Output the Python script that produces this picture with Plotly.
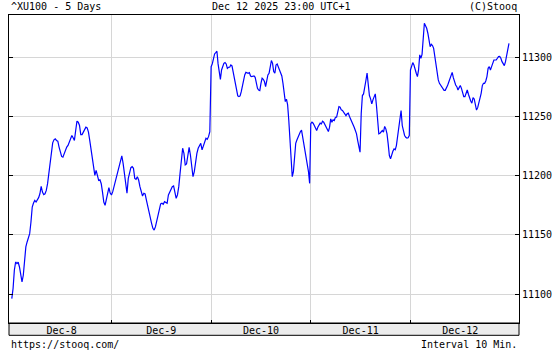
import plotly.graph_objects as go

# ---- data ----
day_labels = ["Dec-8", "Dec-9", "Dec-10", "Dec-11", "Dec-12"]

dec8 = [11096.3, 11104.8, 11120.2, 11127.2, 11125.8, 11127.0, 11123.0, 11114.6, 11110.4, 11116.0,
        11131.5, 11140.0, 11144.1, 11146.9, 11151.1, 11161.0, 11173.6, 11177.0, 11179.2, 11177.8,
        11179.2, 11181.5, 11184.8, 11191.0, 11186.2, 11184.0, 11184.8, 11187.6, 11193.3, 11203.0,
        11212.9, 11222.8, 11227.8, 11230.3, 11231.2, 11229.8, 11229.2, 11224.2, 11220.0, 11216.3,
        11215.7, 11218.5, 11221.9, 11224.2, 11225.6, 11228.4, 11231.2, 11234.0, 11232.0, 11229.8,
        11238.2, 11246.1, 11245.2, 11242.4, 11234.8, 11234.8, 11236.8, 11238.8, 11241.0, 11240.4,
        11236.8, 11229.8, 11221.3, 11212.9, 11204.5, 11200.3, 11204.5, 11200.3, 11196.1, 11196.6,
        11193.3, 11186.2, 11177.8, 11175.0, 11180.6, 11186.2, 11189.9, 11185.4]

dec9 = [11183.8, 11186.6, 11190.8, 11195.0, 11200.6, 11204.9, 11209.1, 11213.3, 11216.7, 11210.5,
        11202.0, 11190.8, 11185.2, 11197.8, 11203.5, 11206.8, 11207.7, 11206.3, 11197.8, 11197.0,
        11199.2, 11196.4, 11190.8, 11186.6, 11182.9, 11185.2, 11184.6, 11179.5, 11173.9, 11169.7,
        11165.5, 11159.8, 11155.6, 11154.2, 11157.0, 11161.2, 11166.9, 11171.1, 11176.2, 11176.8,
        11175.9, 11178.1, 11177.3, 11176.8, 11183.8, 11186.6, 11189.4, 11190.8, 11191.4, 11186.6,
        11181.0, 11183.8, 11190.8, 11202.0, 11211.9, 11223.2, 11218.9, 11209.1, 11209.9, 11217.5,
        11224.0, 11217.5, 11209.1, 11199.2, 11203.5, 11213.3, 11218.9, 11223.2, 11225.1, 11227.4,
        11221.8, 11225.1, 11227.4, 11231.6, 11230.8, 11233.0, 11237.2]

dec10 = [11292.1, 11294.4, 11299.2, 11302.8, 11303.9, 11305.1, 11294.4, 11286.5, 11281.4, 11289.3,
         11292.7, 11294.9, 11295.5, 11294.4, 11290.7, 11291.6, 11291.6, 11293.5, 11292.7, 11287.9,
         11282.3, 11278.0, 11273.0, 11267.4, 11266.8, 11267.4, 11271.0, 11276.6, 11282.3, 11285.1,
         11287.3, 11287.1, 11286.5, 11287.1, 11284.2, 11283.7, 11284.2, 11284.2, 11283.1, 11276.6,
         11273.8, 11272.4, 11271.9, 11278.0, 11282.3, 11281.4, 11279.5, 11275.2, 11279.5, 11285.1,
         11286.5, 11290.7, 11297.2, 11294.9, 11287.9, 11286.5, 11293.5, 11294.4, 11292.1, 11288.7,
         11286.5, 11284.2, 11278.0, 11268.2, 11262.6, 11264.6, 11259.8, 11247.1, 11230.2, 11213.3,
         11199.2, 11203.5, 11217.5, 11227.4, 11230.2, 11233.0, 11235.3, 11237.2, 11238.6, 11233.0,
         11226.0, 11221.8, 11217.5, 11210.5, 11203.5, 11193.6]

dec11 = [11244.0, 11245.2, 11244.4, 11242.4, 11239.6, 11238.2, 11241.0, 11243.2, 11244.4, 11243.8,
         11246.1, 11245.2, 11243.2, 11241.0, 11238.2, 11237.3, 11241.0, 11248.0, 11245.2, 11247.2,
         11246.6, 11249.4, 11249.4, 11252.8, 11258.4, 11257.9, 11255.6, 11255.1, 11253.7, 11251.7,
         11250.8, 11252.3, 11252.8, 11250.0, 11248.0, 11246.1, 11243.8, 11241.0, 11238.2, 11235.4,
         11229.7, 11224.1, 11219.9, 11252.3, 11267.7, 11269.1, 11273.4, 11280.4, 11286.6, 11274.8,
         11267.7, 11264.9, 11260.7, 11264.1, 11266.3, 11269.1, 11259.3, 11246.6, 11235.4, 11235.9,
         11236.8, 11238.2, 11236.8, 11241.6, 11239.6, 11235.4, 11226.9, 11217.1, 11214.3, 11218.5,
         11220.7, 11222.7, 11221.9, 11225.5, 11232.5, 11241.0, 11248.0, 11255.1, 11242.4, 11236.8,
         11234.0, 11232.5, 11231.7, 11232.0, 11234.0]

dec12 = [11289.3, 11293.5, 11295.5, 11293.5, 11289.3, 11286.5, 11283.7, 11289.3, 11302.0, 11299.2,
         11302.5, 11318.9, 11328.7, 11326.7, 11324.5, 11320.3, 11314.6, 11309.0, 11311.0, 11309.9,
         11307.6, 11300.6, 11293.5, 11286.5, 11280.9, 11278.0, 11276.6, 11275.2, 11273.3, 11272.1,
         11272.1, 11273.8, 11276.1, 11278.9, 11282.3, 11285.6, 11287.3, 11282.8, 11279.5, 11276.6,
         11275.2, 11272.4, 11274.4, 11276.1, 11273.8, 11269.6, 11266.8, 11266.8, 11270.4, 11272.4,
         11268.8, 11265.4, 11263.1, 11261.2, 11265.9, 11264.8, 11259.8, 11255.5, 11257.5, 11261.2,
         11264.0, 11269.6, 11276.1, 11278.0, 11278.0, 11280.0, 11283.7, 11290.7, 11292.1, 11289.3,
         11292.1, 11294.9, 11297.7, 11297.7, 11297.7, 11299.2, 11300.6, 11300.8, 11299.2, 11296.3,
         11294.9, 11293.0, 11296.3, 11302.5, 11307.6, 11311.8]

y_ticks = [11100, 11150, 11200, 11250, 11300]

title_left = "^XU100 - 5 Days"
title_mid = "Dec 12 2025 23:00 UTC+1"
title_right = "(C)Stooq"
foot_left = "https://stooq.com/"
foot_right = "Interval 10 Min."

# ---- build series: each session spread over one day slot ----
days = [dec8, dec9, dec10, dec11, dec12]
xs, ys = [], []
for d, vals in enumerate(days):
    n = len(vals)
    for j, v in enumerate(vals):
        xs.append(d + j / n)
        ys.append(v)

FONT = "DejaVu Sans Mono"
GRID = "#d6d6d6"

fig = go.Figure()
fig.add_trace(go.Scatter(x=xs, y=ys, mode="lines",
                         line=dict(color="#0000ff", width=1.2),
                         hoverinfo="skip", showlegend=False))

W, H = 560, 350
ml, mr, mt, mb = 8, 36, 15, 27
ph = H - mt - mb

fig.update_layout(
    width=W, height=H,
    margin=dict(l=ml, r=mr, t=mt, b=mb, pad=0),
    paper_bgcolor="white", plot_bgcolor="white",
    font=dict(family=FONT, size=10, color="black"),
    showlegend=False,
    xaxis=dict(
        range=[-0.028, 5.089],
        tickmode="array",
        tickvals=[i + 0.5 for i in range(len(day_labels))],
        ticktext=day_labels,
        ticks="", showgrid=False, zeroline=False,
        showline=True, mirror=True, linecolor="black", linewidth=1,
        tickfont=dict(family=FONT, size=10, color="black"),
        ticklabelstandoff=-2,
        minor=dict(tickmode="array", tickvals=[1, 2, 3, 4],
                   showgrid=True, gridcolor=GRID, gridwidth=1,
                   ticks="inside", ticklen=3, tickcolor="black", tickwidth=1),
        fixedrange=True,
    ),
    yaxis=dict(
        range=[11075.7, 11335.7],
        side="right",
        tickmode="array", tickvals=y_ticks,
        ticktext=[str(v) for v in y_ticks],
        ticks="inside", ticklen=4, tickcolor="black", tickwidth=1,
        showgrid=True, gridcolor=GRID, gridwidth=1, zeroline=False,
        showline=True, mirror="ticks", linecolor="black", linewidth=1,
        tickfont=dict(family=FONT, size=10, color="black"),
        fixedrange=True,
    ),
    shapes=[dict(type="rect", xref="paper", yref="paper",
                 x0=0, x1=1, y0=-12.3 / ph, y1=0,
                 fillcolor="#ececec", line=dict(color="black", width=1),
                 layer="below")],
    annotations=[
        dict(text=title_left, xref="paper", yref="paper", x=0, y=1 + 8 / ph,
             xanchor="left", yanchor="middle", showarrow=False),
        dict(text=title_mid, xref="paper", yref="paper", x=(283.4 - ml) / (W - ml - mr),
             y=1 + 8 / ph, xanchor="center", yanchor="middle", showarrow=False),
        dict(text=title_right, xref="paper", yref="paper", x=1, y=1 + 8 / ph,
             xanchor="right", yanchor="middle", showarrow=False),
        dict(text=foot_left, xref="paper", yref="paper", x=0, y=-21 / ph,
             xanchor="left", yanchor="middle", showarrow=False),
        dict(text=foot_right, xref="paper", yref="paper", x=1, y=-21 / ph,
             xanchor="right", yanchor="middle", showarrow=False),
    ],
)

fig.write_html("out.html", config={"displayModeBar": False})
